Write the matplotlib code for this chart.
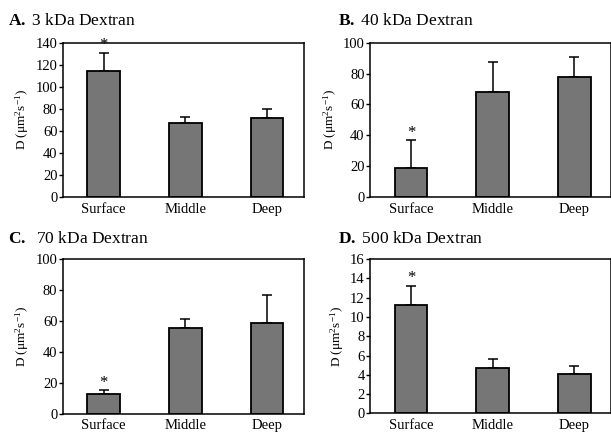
import numpy as np
import matplotlib
matplotlib.use("Agg")
import matplotlib.pyplot as plt

plt.rcParams['font.family'] = ['Liberation Serif', 'DejaVu Serif']
plt.rcParams['mathtext.fontset'] = 'custom'
plt.rcParams['mathtext.rm'] = 'Liberation Serif'
plt.rcParams['mathtext.it'] = 'Liberation Serif:italic'
plt.rcParams['mathtext.bf'] = 'Liberation Serif:bold'

# data
zones = ["Surface", "Middle", "Deep"]
panel_titles = [r"$\mathbf{A.}$ 3 kDa Dextran", r"$\mathbf{B.}$ 40 kDa Dextran",
                r"$\mathbf{C.}$  70 kDa Dextran", r"$\mathbf{D.}$ 500 kDa Dextran"]
d_3kda = [114, 67, 71.5]
err_3kda = [17, 6, 8.5]
d_40kda = [18.6, 68, 78]
err_40kda = [18.4, 19.7, 13]
d_70kda = [13, 55.5, 58.5]
err_70kda = [2.3, 5.8, 18.5]
d_500kda = [11.25, 4.67, 4.05]
err_500kda = [2.0, 1.0, 0.85]
y_max = [140, 100, 100, 16]
y_step = [20, 20, 20, 2]

means = [d_3kda, d_40kda, d_70kda, d_500kda]
errs = [err_3kda, err_40kda, err_70kda, err_500kda]

fig = plt.figure(figsize=(6.11, 4.32), dpi=100)
boxes = [[0.103, 0.544, 0.394, 0.357], [0.606, 0.544, 0.394, 0.357],
         [0.103, 0.042, 0.394, 0.358], [0.606, 0.043, 0.394, 0.357]]
title_pos = [(0.013, 0.942), (0.553, 0.942), (0.013, 0.437), (0.553, 0.437)]

for i in range(4):
    ax = fig.add_axes(boxes[i])
    x = np.arange(len(zones))
    ax.bar(x, means[i], width=0.4, color="#767676", edgecolor="black", linewidth=1.3, zorder=2)
    ax.errorbar(x, means[i], yerr=[np.zeros(3), errs[i]], fmt="none", ecolor="black",
                elinewidth=1.1, capsize=3.8, capthick=1.1, zorder=1)
    # significance star above the surface bar
    top = means[i][0] + errs[i][0]
    ax.text(0, top - y_max[i] * 0.005, "*", ha="center", va="bottom", fontsize=12)
    ax.set_xlim(-0.5, 2.45)
    ax.set_ylim(0, y_max[i])
    ax.set_yticks(np.arange(0, y_max[i] + 0.1, y_step[i]))
    ax.set_xticks(x)
    ax.set_xticklabels(zones)
    ax.tick_params(axis="x", length=0, pad=4, labelsize=10.5)
    ax.tick_params(axis="y", length=3, width=1, direction="out", pad=1, labelsize=10.5)
    for s in ax.spines.values():
        s.set_linewidth(1.1)
    ax.set_ylabel(r"D ($\mathrm{\mu}$m$^{2}$s$^{-1}$)", fontsize=9.5, labelpad=3)
    fig.text(title_pos[i][0], title_pos[i][1], panel_titles[i], fontsize=12.5, ha="left", va="baseline")

fig.savefig("out.png", dpi=100)
